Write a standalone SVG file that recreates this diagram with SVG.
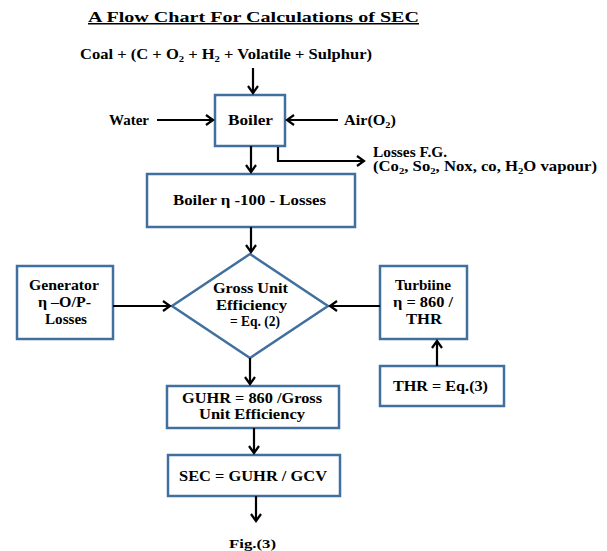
<svg xmlns="http://www.w3.org/2000/svg" width="607" height="551" viewBox="0 0 607 551">
<defs>
<marker id="ah" markerUnits="userSpaceOnUse" markerWidth="14" markerHeight="14" refX="9" refY="6" orient="auto">
<path d="M2,1 L9,6 L2,11" fill="none" stroke="#000" stroke-width="2.2"/>
</marker>
<style>
text{font-family:"Liberation Serif","Times New Roman","DejaVu Serif",serif;font-weight:bold;fill:#000;font-size:14px}
.box{fill:#fff;stroke:#41709F;stroke-width:2.5}
.ar{fill:none;stroke:#000;stroke-width:2.2;marker-end:url(#ah)}
.sub{font-size:9px}
</style>
</defs>
<rect width="607" height="551" fill="#fff"/>
<text id="title" x="88" y="22" textLength="331" lengthAdjust="spacingAndGlyphs" style="font-size:15px;text-decoration:underline">A Flow Chart For Calculations of SEC</text>
<text id="coal" x="80" y="59" textLength="292" lengthAdjust="spacingAndGlyphs">Coal + (C + O<tspan class="sub" dy="3">2</tspan><tspan dy="-3"> + H</tspan><tspan class="sub" dy="3">2</tspan><tspan dy="-3"> + Volatile + Sulphur)</tspan></text>
<g id="boiler">
<rect class="box" x="215" y="95" width="70" height="51"/>
<text x="228" y="125" textLength="45" lengthAdjust="spacingAndGlyphs">Boiler</text>
</g>
<text id="water" x="109" y="125" textLength="40" lengthAdjust="spacingAndGlyphs">Water</text>
<text id="air" x="344" y="125" textLength="52" lengthAdjust="spacingAndGlyphs">Air(O<tspan class="sub" dy="3">2</tspan><tspan dy="-3">)</tspan></text>
<text id="losses" x="373" y="157" textLength="74" lengthAdjust="spacingAndGlyphs">Losses F.G.</text>
<text id="losses2" x="373" y="171" textLength="224" lengthAdjust="spacingAndGlyphs">(Co<tspan class="sub" dy="3">2</tspan><tspan dy="-3">, So</tspan><tspan class="sub" dy="3">2</tspan><tspan dy="-3">, Nox, co, H</tspan><tspan class="sub" dy="3">2</tspan><tspan dy="-3">O vapour)</tspan></text>
<g id="boilereff">
<rect class="box" x="147" y="174" width="208" height="53"/>
<text x="173" y="205" textLength="153" lengthAdjust="spacingAndGlyphs">Boiler η -100 - Losses</text>
</g>
<g id="gross">
<polygon class="box" points="250,254 328,306 250,358 172,306"/>
<text x="213" y="293" textLength="75" lengthAdjust="spacingAndGlyphs">Gross Unit</text>
<text x="216" y="310" textLength="71" lengthAdjust="spacingAndGlyphs">Efficiency</text>
<text x="230" y="326" textLength="50" lengthAdjust="spacingAndGlyphs">= Eq. (2)</text>
</g>
<g id="generator">
<rect class="box" x="17" y="266" width="96" height="73"/>
<text x="29" y="290" textLength="70" lengthAdjust="spacingAndGlyphs">Generator</text>
<text x="38" y="307" textLength="53" lengthAdjust="spacingAndGlyphs">η –O/P-</text>
<text x="45" y="324" textLength="42" lengthAdjust="spacingAndGlyphs">Losses</text>
</g>
<g id="turbine">
<rect class="box" x="380" y="266" width="87" height="73"/>
<text x="395" y="290" textLength="56" lengthAdjust="spacingAndGlyphs">Turbiine</text>
<text x="393" y="307" textLength="60" lengthAdjust="spacingAndGlyphs">η = 860 /</text>
<text x="406" y="324" textLength="36" lengthAdjust="spacingAndGlyphs">THR</text>
</g>
<g id="thr">
<rect class="box" x="380" y="366" width="124" height="40"/>
<text x="393" y="391" textLength="95" lengthAdjust="spacingAndGlyphs">THR = Eq.(3)</text>
</g>
<g id="guhr">
<rect class="box" x="167" y="386" width="172" height="42"/>
<text x="182" y="403" textLength="140" lengthAdjust="spacingAndGlyphs">GUHR = 860 /Gross</text>
<text x="199" y="419" textLength="106" lengthAdjust="spacingAndGlyphs">Unit Efficiency</text>
</g>
<g id="sec">
<rect class="box" x="168" y="455" width="172" height="41"/>
<text x="179" y="481" textLength="148" lengthAdjust="spacingAndGlyphs">SEC = GUHR / GCV</text>
</g>
<text id="fig" x="229" y="548" textLength="47" lengthAdjust="spacingAndGlyphs" style="font-size:13px">Fig.(3)</text>
<g id="connectors">
<line class="ar" x1="253" y1="68" x2="253" y2="93"/>
<line class="ar" x1="157" y1="120" x2="213" y2="120"/>
<line class="ar" x1="338" y1="120" x2="287" y2="120"/>
<line class="ar" x1="251" y1="146" x2="251" y2="172"/>
<polyline class="ar" points="278,147 278,161 364,161"/>
<line class="ar" x1="251" y1="227" x2="251" y2="252"/>
<line class="ar" x1="113" y1="306" x2="170" y2="306"/>
<line class="ar" x1="380" y1="306" x2="330" y2="306"/>
<line class="ar" x1="437" y1="366" x2="437" y2="341"/>
<line class="ar" x1="250" y1="358" x2="250" y2="384"/>
<line class="ar" x1="254" y1="428" x2="254" y2="453"/>
<line class="ar" x1="256" y1="496" x2="256" y2="521"/>
</g>
</svg>
